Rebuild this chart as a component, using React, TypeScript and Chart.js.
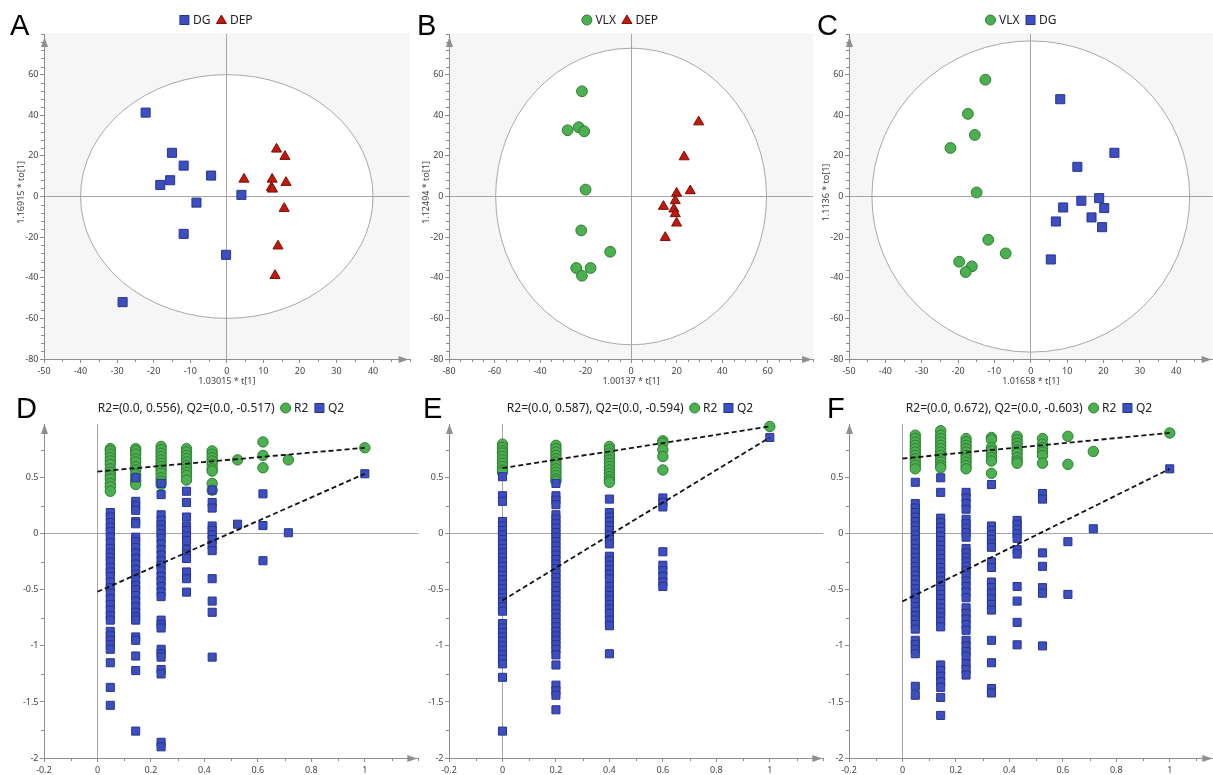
import React, { useEffect, useRef } from "react";
import { Chart, registerables } from "chart.js";
Chart.register(...registerables);

// ---------------- DATA ----------------
// Panel A: DG vs DEP score plot
const A_DG_x = [-22.2, -15.0, -11.8, -4.3, -18.2, -15.5, -8.3, 4.0, -11.8, -0.2, -28.5];
const A_DG_y = [41.3, 21.5, 15.2, 10.3, 5.7, 8.0, -3.0, 0.8, -18.4, -28.7, -52.0];
const A_DEP_x = [13.6, 15.9, 4.7, 12.4, 16.2, 12.2, 12.5, 15.7, 14.0, 13.2];
const A_DEP_y = [23.3, 19.7, 8.5, 8.5, 6.9, 4.4, 3.6, -5.9, -24.4, -38.9];
const A_ellipse = [40, 60];

// Panel B: VLX vs DEP
const B_VLX_x = [-21.6, -27.9, -23.0, -20.6, -20.0, -21.9, -9.2, -24.1, -17.8, -21.6];
const B_VLX_y = [51.8, 32.6, 34.1, 32.1, 3.4, -16.7, -27.2, -35.2, -35.2, -39.0];
const B_DEP_x = [29.7, 23.3, 26.0, 20.0, 19.4, 14.2, 18.8, 19.4, 20.0, 15.0];
const B_DEP_y = [36.7, 19.5, 2.8, 1.6, -2.1, -4.9, -6.2, -8.5, -13.1, -20.2];
const B_ellipse = [59.5, 73];

// Panel C: VLX vs DG
const C_VLX_x = [-12.5, -17.3, -15.4, -22.1, -14.9, -11.7, -6.9, -19.7, -16.2, -17.9];
const C_VLX_y = [57.5, 40.7, 30.3, 23.9, 2.0, -21.3, -28.0, -32.1, -34.4, -37.2];
const C_DG_x = [8.1, 23.0, 12.8, 18.8, 13.9, 20.2, 8.9, 16.7, 6.9, 19.6, 5.5];
const C_DG_y = [47.9, 21.5, 14.6, -0.8, -2.1, -5.7, -5.4, -10.3, -12.3, -15.1, -31.0];
const C_ellipse = [43.7, 76.6];

// Tick labels
const TOP_Y_TICKS = [-80, -60, -40, -20, 0, 20, 40, 60];
const A_X_TICKS = [-50, -40, -30, -20, -10, 0, 10, 20, 30, 40];
const B_X_TICKS = [-80, -60, -40, -20, 0, 20, 40, 60];
const C_X_TICKS = [-50, -40, -30, -20, -10, 0, 10, 20, 30, 40];
const BOT_X_TICKS = [-0.2, 0, 0.2, 0.4, 0.6, 0.8, 1];
const BOT_Y_TICKS = [-2, -1.5, -1, -0.5, 0, 0.5];

// Panel D: permutation test
const D_cols = [0.048, 0.143, 0.238, 0.333, 0.429, 0.524, 0.619, 0.714, 1];
const D_R2 = [
  [0.76, 0.74, 0.71, 0.68, 0.65, 0.62, 0.58, 0.55, 0.52, 0.49, 0.45, 0.42, 0.38],
  [0.76, 0.74, 0.71, 0.67, 0.64, 0.6, 0.57, 0.53, 0.5, 0.47, 0.44],
  [0.78, 0.75, 0.72, 0.69, 0.66, 0.63, 0.6, 0.57, 0.54, 0.5, 0.47, 0.44],
  [0.76, 0.73, 0.7, 0.67, 0.64, 0.61, 0.58, 0.55, 0.52, 0.48],
  [0.74, 0.71, 0.68, 0.65, 0.62, 0.58, 0.56, 0.45, 0.39],
  [0.66],
  [0.82, 0.7, 0.59],
  [0.66],
  [0.768],
];
const D_Q2 = [
  [0.19, 0.15, 0.1, 0.06, 0.02, -0.03, -0.08, -0.13, -0.17, -0.21, -0.25, -0.3, -0.34, -0.38, -0.43, -0.48, -0.53, -0.58, -0.63, -0.68, -0.73, -0.77, -0.87, -0.91, -0.95, -0.99, -1.03, -1.15, -1.37, -1.53],
  [0.5, 0.29, 0.25, 0.21, 0.11, 0.09, -0.03, -0.07, -0.12, -0.17, -0.22, -0.27, -0.32, -0.36, -0.41, -0.46, -0.5, -0.55, -0.6, -0.65, -0.7, -0.74, -0.77, -0.92, -0.95, -1.09, -1.22, -1.76],
  [0.45, 0.35, 0.17, 0.12, 0.08, 0.04, 0.0, -0.04, -0.09, -0.14, -0.19, -0.24, -0.28, -0.33, -0.38, -0.42, -0.47, -0.52, -0.56, -0.77, -0.81, -0.84, -1.03, -1.07, -1.1, -1.21, -1.25, -1.86, -1.9],
  [0.38, 0.28, 0.15, 0.07, 0.03, -0.02, -0.06, -0.14, -0.18, -0.22, -0.34, -0.4, -0.52],
  [0.39, 0.28, 0.23, 0.07, 0.03, -0.01, -0.05, -0.1, -0.15, -0.4, -0.6, -0.7, -1.1],
  [0.086],
  [0.357, 0.074, -0.24],
  [0.01],
  [0.536],
];
const D_lineX = [0, 1];
const D_R2_line = [0.556, 0.768];
const D_Q2_line = [-0.517, 0.536];

// Panel E
const E_cols = [0, 0.2, 0.4, 0.6, 1];
const E_R2 = [
  [0.8, 0.77, 0.74, 0.72, 0.69, 0.66, 0.63, 0.6, 0.57, 0.55],
  [0.79, 0.76, 0.73, 0.7, 0.67, 0.64, 0.61, 0.58, 0.55, 0.52, 0.49, 0.47],
  [0.78, 0.75, 0.72, 0.69, 0.66, 0.63, 0.6, 0.57, 0.54, 0.51, 0.48, 0.46],
  [0.83, 0.81, 0.75, 0.69, 0.57],
  [0.958],
];
const E_Q2 = [
  [0.51, 0.34, 0.29, 0.11, 0.07, 0.03, -0.01, -0.05, -0.09, -0.13, -0.17, -0.21, -0.25, -0.29, -0.33, -0.37, -0.41, -0.45, -0.49, -0.53, -0.57, -0.61, -0.65, -0.69, -0.8, -0.84, -0.88, -0.92, -0.96, -1.0, -1.04, -1.08, -1.12, -1.16, -1.28, -1.76],
  [0.45, 0.34, 0.3, 0.26, 0.17, 0.13, 0.09, 0.05, 0.01, -0.03, -0.07, -0.11, -0.15, -0.19, -0.23, -0.27, -0.31, -0.35, -0.39, -0.43, -0.47, -0.51, -0.55, -0.59, -0.63, -0.67, -0.71, -0.75, -0.79, -0.83, -0.87, -0.91, -0.95, -0.99, -1.03, -1.08, -1.17, -1.35, -1.4, -1.44, -1.57],
  [0.31, 0.19, 0.15, 0.11, 0.07, 0.03, -0.01, -0.05, -0.09, -0.2, -0.24, -0.28, -0.32, -0.36, -0.4, -0.47, -0.51, -0.55, -0.59, -0.63, -0.67, -0.71, -0.77, -0.82, -1.07],
  [0.32, 0.28, 0.24, -0.16, -0.28, -0.33, -0.38, -0.43, -0.47],
  [0.86],
];
const E_lineX = [0, 1];
const E_R2_line = [0.587, 0.958];
const E_Q2_line = [-0.594, 0.86];

// Panel F
const F_cols = [0.048, 0.143, 0.238, 0.333, 0.429, 0.524, 0.619, 0.714, 1];
const F_R2 = [
  [0.88, 0.85, 0.82, 0.79, 0.76, 0.73, 0.7, 0.67, 0.64, 0.61, 0.58],
  [0.92, 0.88, 0.85, 0.82, 0.79, 0.76, 0.73, 0.7, 0.67, 0.64, 0.61, 0.59],
  [0.85, 0.82, 0.79, 0.76, 0.73, 0.7, 0.67, 0.64, 0.61, 0.58],
  [0.86, 0.84, 0.77, 0.74, 0.71, 0.68, 0.65, 0.54],
  [0.87, 0.84, 0.81, 0.78, 0.75, 0.72, 0.68, 0.65, 0.63],
  [0.85, 0.8, 0.77, 0.73, 0.7, 0.63],
  [0.87, 0.62],
  [0.735],
  [0.9],
];
const F_Q2 = [
  [0.46, 0.27, 0.23, 0.19, 0.15, 0.11, 0.07, 0.03, -0.01, -0.05, -0.09, -0.13, -0.17, -0.21, -0.25, -0.29, -0.33, -0.37, -0.41, -0.45, -0.49, -0.53, -0.57, -0.61, -0.65, -0.69, -0.73, -0.77, -0.81, -0.85, -0.95, -0.99, -1.03, -1.07, -1.36, -1.44],
  [0.5, 0.37, 0.14, 0.1, 0.06, 0.02, -0.02, -0.06, -0.1, -0.14, -0.18, -0.22, -0.26, -0.3, -0.34, -0.38, -0.42, -0.46, -0.5, -0.54, -0.58, -0.62, -0.66, -0.7, -0.74, -0.78, -0.83, -1.17, -1.22, -1.27, -1.32, -1.37, -1.46, -1.62],
  [0.37, 0.32, 0.27, 0.22, 0.13, 0.09, 0.05, 0.01, -0.03, -0.13, -0.17, -0.21, -0.25, -0.29, -0.33, -0.37, -0.42, -0.47, -0.52, -0.57, -0.66, -0.71, -0.76, -0.81, -0.86, -0.95, -1.0, -1.05, -1.09, -1.16, -1.21, -1.26],
  [0.44, 0.07, 0.03, -0.01, -0.05, -0.09, -0.12, -0.25, -0.3, -0.43, -0.48, -0.53, -0.58, -0.63, -0.68, -0.95, -1.15, -1.38, -1.42],
  [0.12, 0.08, 0.04, 0.0, -0.04, -0.14, -0.18, -0.47, -0.6, -0.79, -0.99],
  [0.36, 0.31, -0.17, -0.29, -0.48, -0.53, -1.0],
  [-0.07, -0.54],
  [0.045],
  [0.58],
];
const F_lineX = [0, 1];
const F_R2_line = [0.672, 0.9];
const F_Q2_line = [-0.603, 0.58];

// ---------------- STYLE ----------------
const FONT = '"Noto Sans", "Open Sans", sans-serif';
const AXIS = "#8e8e8e";
const ZERO = "#a6a6a6";
const BLUE = "#3c4ec0";
const BLUE_B = "#27358f";
const RED = "#c2190c";
const RED_B = "#7b0d05";
const GREEN = "#4caf50";
const GREEN_B = "#2e7d32";

const pts = (xs: number[], ys: number[]) => xs.map((x, i) => ({ x, y: ys[i] }));
const colPts = (cs: number[], vals: number[][]) =>
  cs.flatMap((c, i) => vals[i].map((v) => ({ x: c, y: v })));

function drawMarker(ctx: CanvasRenderingContext2D, m: string, cx: number, cy: number) {
  ctx.save();
  ctx.lineWidth = 1;
  if (m === "rect") {
    ctx.fillStyle = BLUE;
    ctx.strokeStyle = BLUE_B;
    ctx.fillRect(cx - 4.5, cy - 4.5, 9, 9);
    ctx.strokeRect(cx - 4.5, cy - 4.5, 9, 9);
  } else if (m === "tri") {
    ctx.fillStyle = RED;
    ctx.strokeStyle = RED_B;
    ctx.beginPath();
    ctx.moveTo(cx, cy - 5);
    ctx.lineTo(cx + 5, cy + 3.5);
    ctx.lineTo(cx - 5, cy + 3.5);
    ctx.closePath();
    ctx.fill();
    ctx.stroke();
  } else {
    ctx.fillStyle = GREEN;
    ctx.strokeStyle = GREEN_B;
    ctx.beginPath();
    ctx.arc(cx, cy, 5, 0, Math.PI * 2);
    ctx.fill();
    ctx.stroke();
  }
  ctx.restore();
}

type Deco = {
  key: string;
  bg?: boolean;
  ellipse?: number[];
  minorX: number;
  minorY: number;
  arrowInsetTop: number;
  legend: { text: string; m?: string }[];
  legendX: number;
  legendY: number;
  letterX: number;
  letterY: number;
  xTitle?: string;
  yTitle?: string;
  xTitleY?: number;
};

function decoPlugin(cfg: Deco) {
  return {
    id: "deco" + cfg.key,
    beforeDraw(chart: any) {
      const { ctx, chartArea: ca, scales } = chart;
      const x = scales.x;
      const y = scales.y;
      ctx.save();
      if (cfg.bg) {
        ctx.fillStyle = "#f6f6f6";
        ctx.fillRect(ca.left, ca.top - 1, ca.right - ca.left, ca.bottom - ca.top + 1);
      }
      if (cfg.ellipse) {
        const cx = x.getPixelForValue(0);
        const cy = y.getPixelForValue(0);
        const rx = Math.abs(x.getPixelForValue(cfg.ellipse[0]) - cx);
        const ry = Math.abs(y.getPixelForValue(cfg.ellipse[1]) - cy);
        ctx.beginPath();
        ctx.ellipse(cx, cy, rx, ry, 0, 0, Math.PI * 2);
        ctx.fillStyle = "#ffffff";
        ctx.fill();
        ctx.strokeStyle = "#a9a9a9";
        ctx.lineWidth = 1;
        ctx.stroke();
      }
      ctx.restore();
    },
    afterDraw(chart: any) {
      const { ctx, chartArea: ca, scales } = chart;
      const x = scales.x;
      const y = scales.y;
      ctx.save();
      // minor ticks
      ctx.strokeStyle = AXIS;
      ctx.lineWidth = 1;
      const minor = (s: any, step: number, horiz: boolean) => {
        const majors = s.ticks.map((t: any) => t.value);
        const n0 = Math.ceil(s.min / step - 1e-9);
        const n1 = Math.floor(s.max / step + 1e-9);
        ctx.beginPath();
        for (let i = n0; i <= n1; i++) {
          const v = i * step;
          if (majors.some((mv: number) => Math.abs(mv - v) < 1e-7)) continue;
          const p = Math.round(s.getPixelForValue(v)) + 0.5;
          if (horiz) {
            ctx.moveTo(p, ca.bottom);
            ctx.lineTo(p, ca.bottom + 3);
          } else {
            ctx.moveTo(ca.left - 3, p);
            ctx.lineTo(ca.left, p);
          }
        }
        ctx.stroke();
      };
      minor(x, cfg.minorX, true);
      minor(y, cfg.minorY, false);
      // arrows
      ctx.fillStyle = AXIS;
      const t = ca.top + cfg.arrowInsetTop;
      ctx.beginPath();
      ctx.moveTo(ca.left + 0.5, t);
      ctx.lineTo(ca.left - 3, t + 10);
      ctx.lineTo(ca.left + 4, t + 10);
      ctx.closePath();
      ctx.fill();
      ctx.beginPath();
      ctx.moveTo(ca.right - 1, ca.bottom + 0.5);
      ctx.lineTo(ca.right - 11, ca.bottom - 3);
      ctx.lineTo(ca.right - 11, ca.bottom + 4);
      ctx.closePath();
      ctx.fill();
      // legend
      ctx.font = `12px ${FONT}`;
      ctx.textBaseline = "middle";
      ctx.textAlign = "left";
      const MS = 10;
      const GAP_MT = 3.5;
      const GAP_IT = 6;
      const widths = cfg.legend.map((it) => ctx.measureText(it.text).width + (it.m ? MS + GAP_MT : 0));
      const total = widths.reduce((a, b) => a + b, 0) + GAP_IT * (widths.length - 1);
      let px = cfg.legendX - total / 2;
      cfg.legend.forEach((it, i) => {
        let tx = px;
        if (it.m) {
          drawMarker(ctx, it.m, px + MS / 2, cfg.legendY);
          tx += MS + GAP_MT;
        }
        ctx.fillStyle = "#222";
        ctx.fillText(it.text, tx, cfg.legendY + 0.5);
        px += widths[i] + GAP_IT;
      });
      // panel letter
      ctx.font = `29px "Liberation Sans", Arial, sans-serif`;
      ctx.textBaseline = "alphabetic";
      ctx.fillStyle = "#000";
      ctx.fillText(cfg.key, cfg.letterX, cfg.letterY);
      // axis titles
      ctx.font = `9px ${FONT}`;
      ctx.fillStyle = "#444";
      ctx.textAlign = "center";
      ctx.textBaseline = "middle";
      if (cfg.xTitle) ctx.fillText(cfg.xTitle, (ca.left + ca.right) / 2, cfg.xTitleY || 381);
      if (cfg.yTitle) {
        ctx.translate(ca.left - 22.5, (ca.top + ca.bottom) / 2 - 4);
        ctx.rotate(-Math.PI / 2);
        ctx.fillText(cfg.yTitle, 0, 0);
      }
      ctx.restore();
    },
  };
}

function axis(min: number, max: number, ticks: number[], fit: (s: any) => void, pad: number) {
  return {
    type: "linear",
    min,
    max,
    afterBuildTicks: (s: any) => {
      s.ticks = ticks.map((v) => ({ value: v }));
    },
    afterFit: (s: any) => {
      fit(s);
      s.paddingLeft = 0;
      s.paddingRight = 0;
      s.paddingTop = 0;
      s.paddingBottom = 0;
    },
    grid: {
      color: (c: any) => (c.tick && Math.abs(c.tick.value) < 1e-9 ? ZERO : "rgba(0,0,0,0)"),
      tickColor: AXIS,
      tickLength: 4,
      drawTicks: true,
      lineWidth: 1,
    },
    border: { display: true, color: AXIS, width: 1 },
    ticks: {
      font: { family: FONT, size: 9 },
      color: "#444",
      padding: pad,
      maxRotation: 0,
      autoSkip: false,
      callback: (v: any) => String(v),
    },
  };
}

function baseOptions(p: any) {
  return {
    animation: false,
    responsive: false,
    devicePixelRatio: 1,
    events: [],
    layout: { padding: { left: 0, right: 0, top: p.padTop, bottom: 0 } },
    plugins: { legend: { display: false }, tooltip: { enabled: false }, title: { display: false } },
    scales: {
      x: axis(p.xMin, p.xMax, p.xTicks, (s: any) => { s.height = p.xH; }, 3),
      y: axis(p.yMin, p.yMax, p.yTicks, (s: any) => { s.width = p.yW; }, 1.5),
    },
  };
}

const sq = (data: any[], r: number) => ({ data, clip: false, pointStyle: "rect", pointRadius: r, pointHoverRadius: r, backgroundColor: BLUE, borderColor: BLUE_B, borderWidth: 1 });
const tri = (data: any[], r: number) => ({ data, clip: false, pointStyle: "triangle", pointRadius: r, pointHoverRadius: r, backgroundColor: RED, borderColor: RED_B, borderWidth: 1 });
const circ = (data: any[], r: number) => ({ data, clip: false, pointStyle: "circle", pointRadius: r, pointHoverRadius: r, backgroundColor: GREEN, borderColor: GREEN_B, borderWidth: 1 });
const dash = (data: any[]) => ({ data, clip: false, showLine: true, borderColor: "#111", borderWidth: 1.8, borderDash: [5, 3], pointRadius: 0, fill: false });

type PanelDef = { key: string; left: number; top: number; w: number; h: number; make: () => any };

// The library keeps about 7px at the right of each plot; canvases are made that much wider.
const RIGHT_EXTRA = 7;

function topPanel(key: string, left: number, w: number, yW: number, xMin: number, xMax: number, xTicks: number[], datasets: any[], deco: Partial<Deco>): PanelDef {
  const p = { padTop: 34, xMin, xMax, xTicks, xH: 388 - 359, yMin: -80, yMax: 80, yTicks: TOP_Y_TICKS, yW };
  const cfg: Deco = { key, bg: true, minorX: 5, minorY: 4, arrowInsetTop: 3, legend: [], legendX: 0, legendY: 20, letterX: 0, letterY: 35, ...deco } as Deco;
  const plugin = decoPlugin(cfg);
  return {
    key, left, top: 0, w: w + RIGHT_EXTRA, h: 388,
    make: () => ({ type: "scatter", data: { datasets }, options: baseOptions(p), plugins: [plugin] }),
  };
}

function botPanel(key: string, left: number, w: number, yW: number, xMax: number, datasets: any[], deco: Partial<Deco>): PanelDef {
  const p = { padTop: 39, xMin: -0.2, xMax, xTicks: BOT_X_TICKS, xH: 390 - 373, yMin: -2, yMax: 0.98, yTicks: BOT_Y_TICKS, yW };
  const cfg: Deco = { key, bg: false, minorX: 0.1, minorY: 0.25, arrowInsetTop: 0, legend: [], legendX: 0, legendY: 23, letterX: 0, letterY: 33, ...deco } as Deco;
  const plugin = decoPlugin(cfg);
  return {
    key, left, top: 385, w: w + RIGHT_EXTRA, h: 390,
    make: () => ({ type: "scatter", data: { datasets }, options: baseOptions(p), plugins: [plugin] }),
  };
}

const PANELS: PanelDef[] = [
  topPanel("A", 0, 410, 44, -50, 50, A_X_TICKS,
    [sq(pts(A_DG_x, A_DG_y), 6.4), tri(pts(A_DEP_x, A_DEP_y), 5.8)],
    { ellipse: A_ellipse, legend: [{ text: "DG", m: "rect" }, { text: "DEP", m: "tri" }], legendX: 216, letterX: 10, xTitle: "1.03015 * t[1]", yTitle: "1.16915 * to[1]" }),
  topPanel("B", 410, 403, 39, -80, 80, B_X_TICKS,
    [circ(pts(B_VLX_x, B_VLX_y), 5.4), tri(pts(B_DEP_x, B_DEP_y), 5.8)],
    { ellipse: B_ellipse, legend: [{ text: "VLX", m: "circle" }, { text: "DEP", m: "tri" }], legendX: 210, letterX: 7, xTitle: "1.00137 * t[1]", yTitle: "1.12494 * to[1]" }),
  topPanel("C", 813, 400, 36, -50, 50, C_X_TICKS,
    [circ(pts(C_VLX_x, C_VLX_y), 5.4), sq(pts(C_DG_x, C_DG_y), 6.4)],
    { ellipse: C_ellipse, legend: [{ text: "VLX", m: "circle" }, { text: "DG", m: "rect" }], legendX: 208, letterX: 4, xTitle: "1.01658 * t[1]", yTitle: "1.1136 * to[1]" }),
  botPanel("D", 0, 418, 44, 1.2,
    [dash(pts(D_lineX, D_R2_line)), dash(pts(D_lineX, D_Q2_line)), sq(colPts(D_cols, D_Q2), 5.7), circ(colPts(D_cols, D_R2), 5.2)],
    { legend: [{ text: "R2=(0.0, 0.556), Q2=(0.0, -0.517)" }, { text: "R2", m: "circle" }, { text: "Q2", m: "rect" }], legendX: 221, letterX: 16 }),
  botPanel("E", 418, 405, 31, 1.2,
    [dash(pts(E_lineX, E_R2_line)), dash(pts(E_lineX, E_Q2_line)), sq(colPts(E_cols, E_Q2), 5.7), circ(colPts(E_cols, E_R2), 5.2)],
    { legend: [{ text: "R2=(0.0, 0.587), Q2=(0.0, -0.594)" }, { text: "R2", m: "circle" }, { text: "Q2", m: "rect" }], legendX: 212, letterX: 5 }),
  botPanel("F", 823, 390, 26, 1.163,
    [dash(pts(F_lineX, F_R2_line)), dash(pts(F_lineX, F_Q2_line)), sq(colPts(F_cols, F_Q2), 5.7), circ(colPts(F_cols, F_R2), 5.2)],
    { legend: [{ text: "R2=(0.0, 0.672), Q2=(0.0, -0.603)" }, { text: "R2", m: "circle" }, { text: "Q2", m: "rect" }], legendX: 206, letterX: 4 }),
];

function Panel({ def }: { def: PanelDef }) {
  const ref = useRef<HTMLCanvasElement>(null);
  useEffect(() => {
    if (!ref.current) return;
    const chart = new Chart(ref.current, def.make());
    return () => chart.destroy();
  }, [def]);
  return (
    <canvas
      ref={ref}
      width={def.w}
      height={def.h}
      style={{ position: "absolute", left: def.left, top: def.top, width: def.w, height: def.h }}
    />
  );
}

export default function App() {
  return (
    <div style={{ position: "absolute", left: 0, top: 0, width: 1213, height: 775, background: "#fff", overflow: "hidden" }}>
      {PANELS.map((d) => (
        <Panel key={d.key} def={d} />
      ))}
    </div>
  );
}
